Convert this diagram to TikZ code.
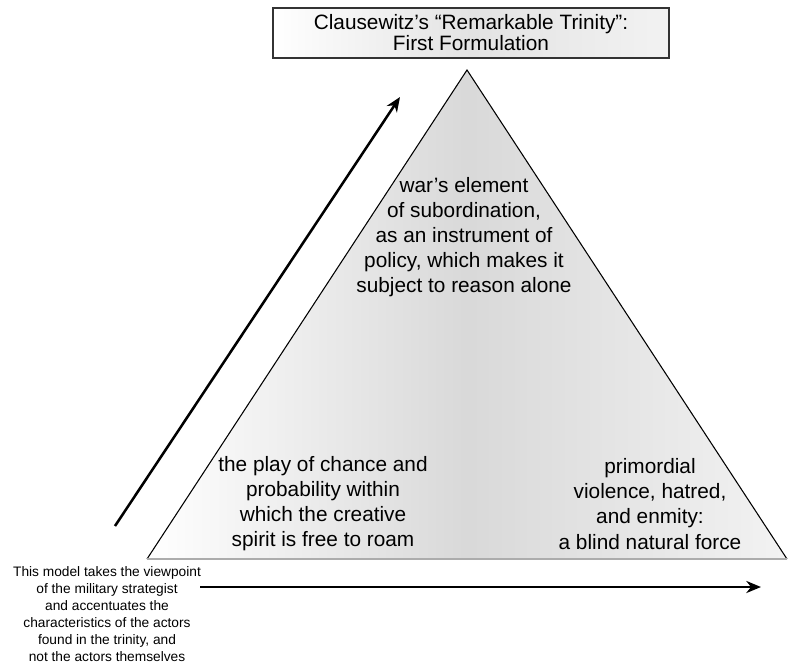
\documentclass[tikz,border=0pt]{standalone}
\usepackage{fontspec}
\setmainfont{Liberation Sans}
\usetikzlibrary{arrows.meta}
\begin{document}
\begin{tikzpicture}[x=0.75pt,y=-0.75pt,
    titlebox/.style={draw=black!80,line width=1.1pt,minimum width=297pt,minimum height=37.5pt,align=center,
      left color=white,right color=gray!10,middle color=gray!22,font=\fontsize{15.6}{15.8}\selectfont,inner sep=0pt},
    trin/.style={align=center,font=\fontsize{15.6}{18.8}\selectfont,inner sep=0pt},
    note/.style={align=center,font=\fontsize{10.3}{12.8}\selectfont,inner sep=0pt},
    flow/.style={-{Stealth[length=11pt,width=9pt,inset=3.5pt]},line width=1.9pt},
    line width=0.5pt]
    \useasboundingbox (0,0) rectangle (788,664);

    % the trinity
    \coordinate (apex) at (467,70);
    \coordinate (bl) at (147,559);
    \coordinate (br) at (787,559);
    \shade[left color=white,right color=gray!10,middle color=gray!30] (apex) -- (bl) -- (br) -- cycle;
    \draw[line width=0.8pt] (bl) -- (apex) -- (br);
    \draw[gray!65,line width=1.4pt] (bl) -- (br);

    \node[titlebox] (title) at (471,33) {Clausewitz's “Remarkable Trinity”:\\First Formulation};

    \node[trin] (policy) at (464,237) {war's element\\of subordination,\\as an instrument of\\policy, which makes it\\subject to reason alone};
    \node[trin] (chance) at (323,504) {the play of chance and\\probability within\\which the creative\\spirit is free to roam};
    \node[trin] (passion) at (650,504) {primordial\\violence, hatred,\\and enmity:\\a blind natural force};

    \node[note] (view) at (107,614) {This model takes the viewpoint\\of the military strategist\\and accentuates the\\characteristics of the actors\\found in the trinity, and\\not the actors themselves};

    % arrows
    \coordinate (d0) at (115,526);
    \coordinate (d1) at (400,97);
    \coordinate (h0) at (200,587);
    \coordinate (h1) at (761,587);
    \draw[flow] (d0) -- (d1);
    \draw[flow] (h0) -- (h1);
\end{tikzpicture}
\end{document}
